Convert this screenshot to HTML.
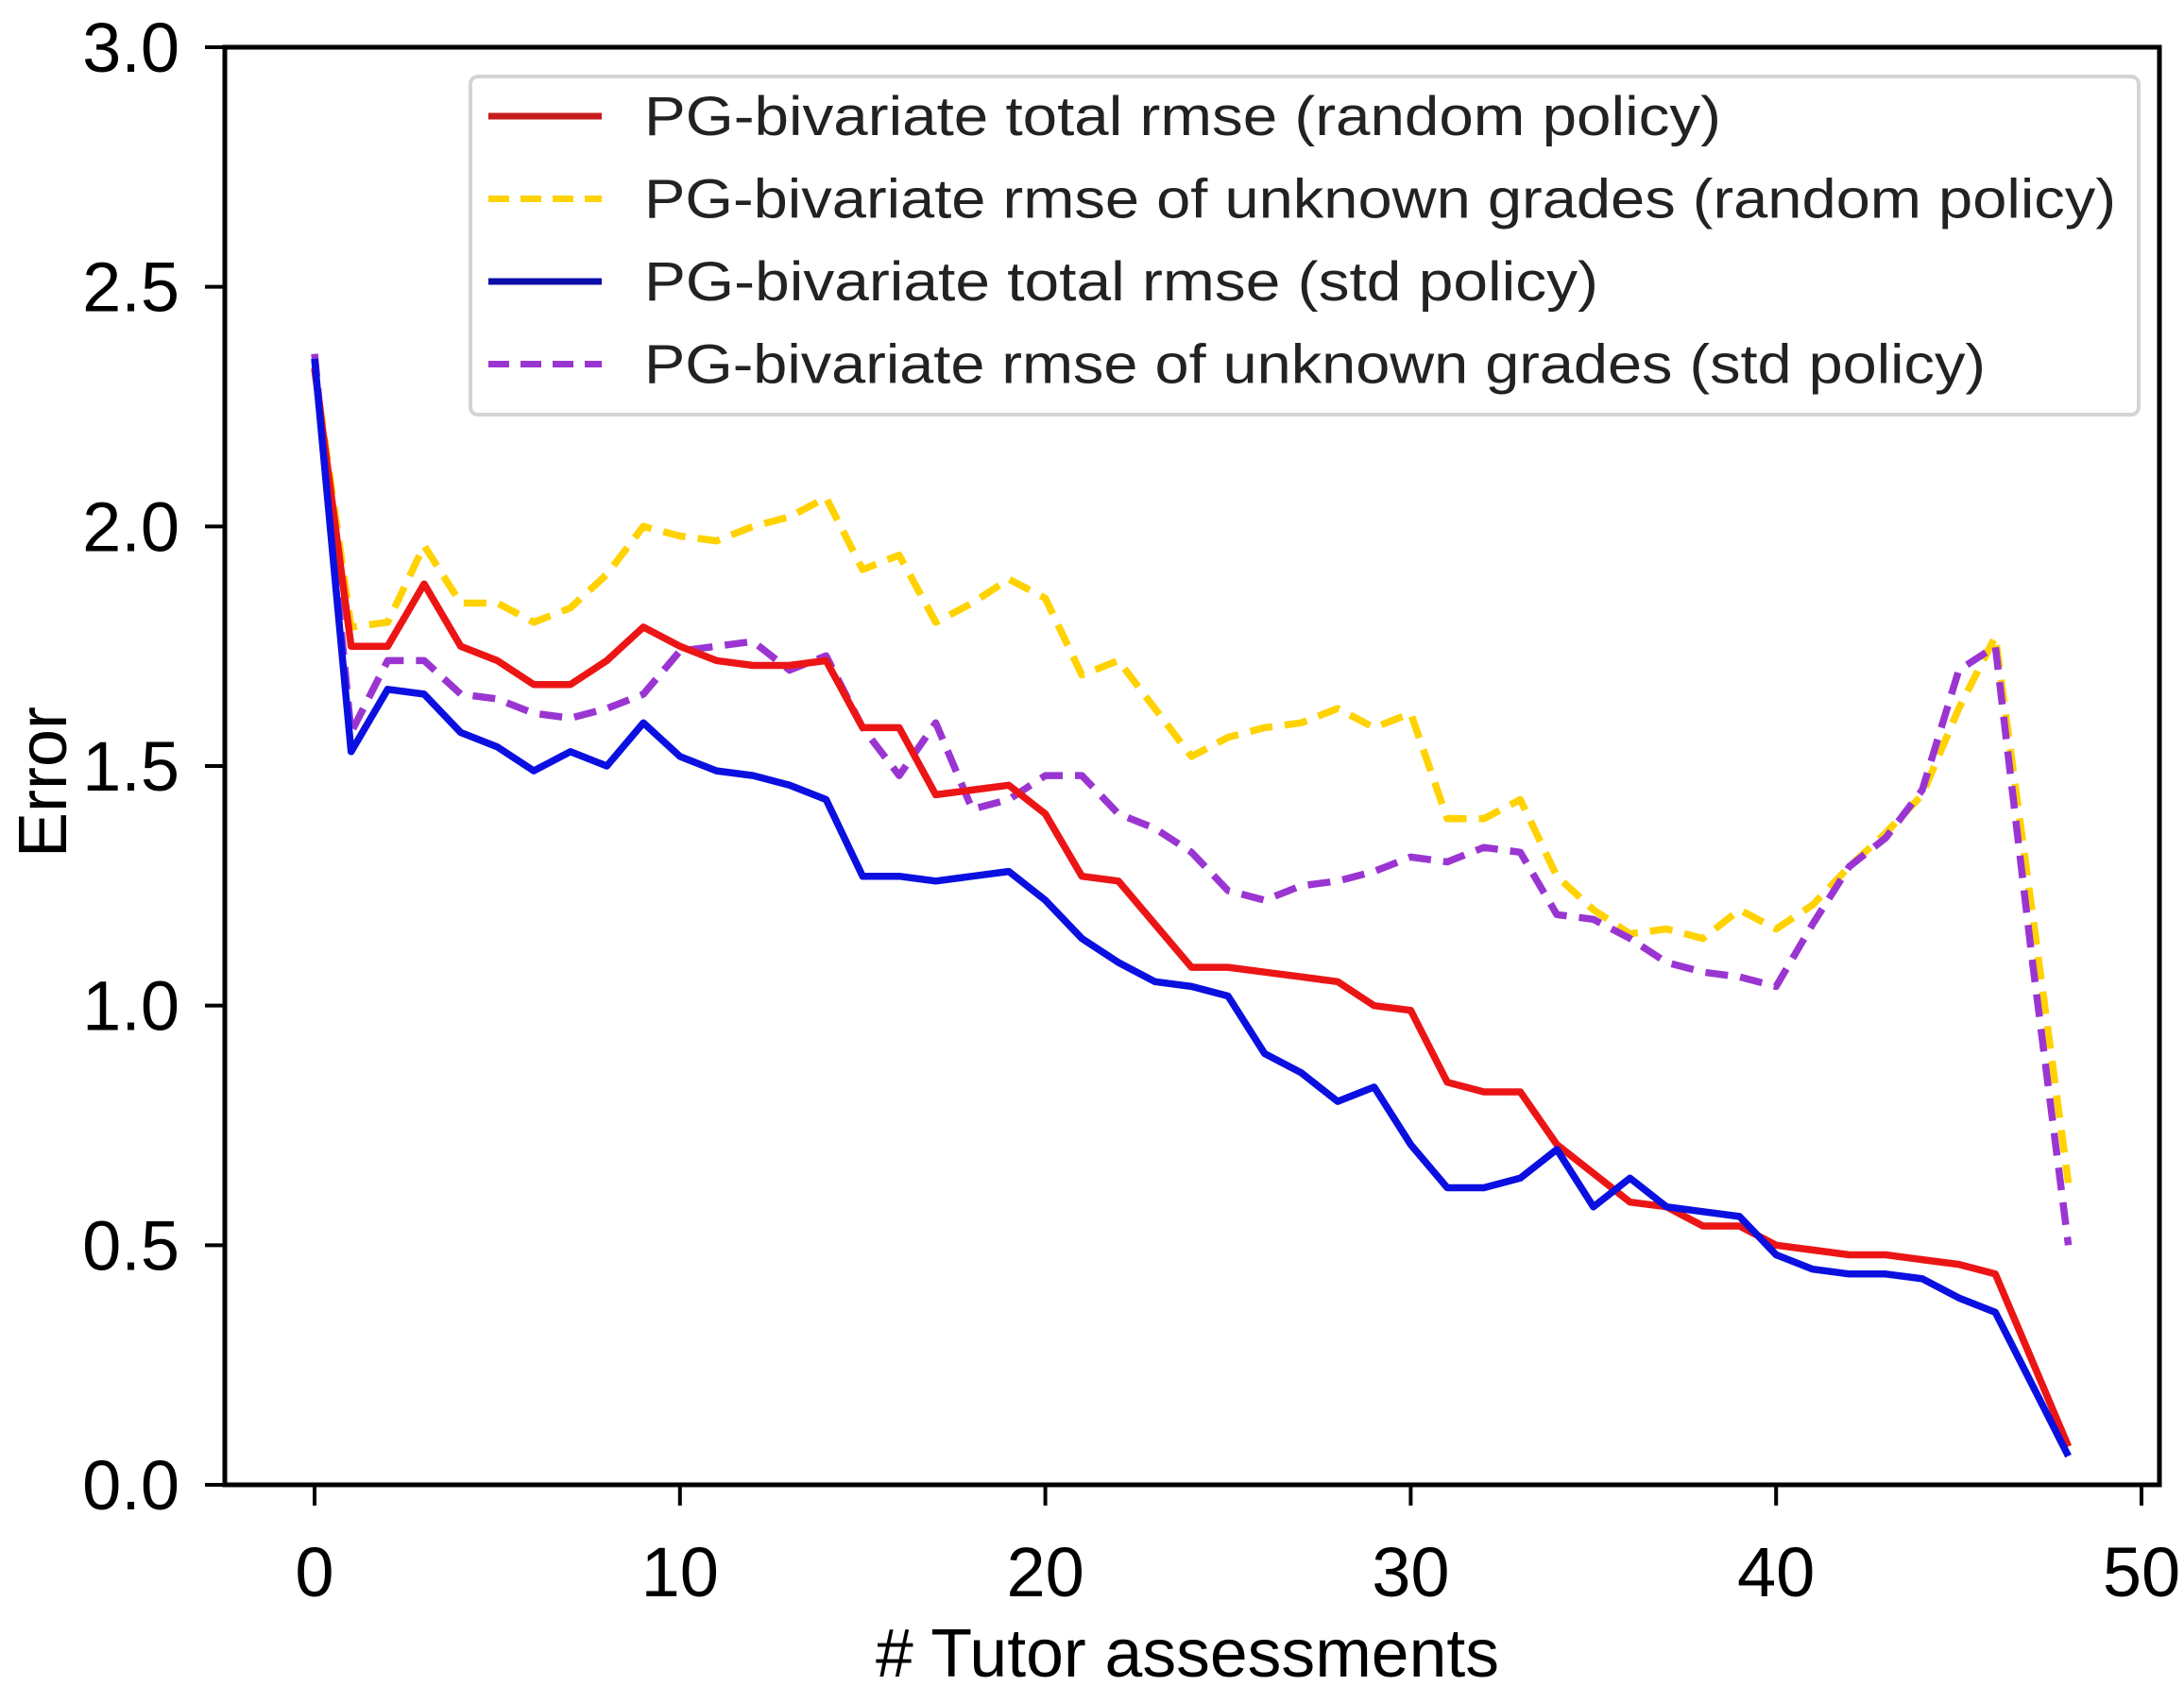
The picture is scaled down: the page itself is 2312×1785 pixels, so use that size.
<!DOCTYPE html>
<html><head><meta charset="utf-8"><style>
html,body{margin:0;padding:0;background:#fff;}
svg{display:block;font-family:"Liberation Sans",sans-serif;}
</style></head><body>
<svg id="chart" width="2312" height="1785" viewBox="0 0 2312 1785" xmlns="http://www.w3.org/2000/svg">
<g id="plot"></g>
<g id="axes"></g>
<g id="legend"></g>
</svg>
<script>
const xTicks = [0,10,20,30,40,50];
const yTicks = [0.0,0.5,1.0,1.5,2.0,2.5,3.0];
const yTickLabels = ["0.0","0.5","1.0","1.5","2.0","2.5","3.0"];
const redRandomTotal = [2.33,1.75,1.75,1.88,1.75,1.72,1.67,1.67,1.72,1.79,1.75,1.72,1.71,1.71,1.72,1.58,1.58,1.44,1.45,1.46,1.40,1.27,1.26,1.17,1.08,1.08,1.07,1.06,1.05,1.00,0.99,0.84,0.82,0.82,0.71,0.65,0.59,0.58,0.54,0.54,0.50,0.49,0.48,0.48,0.47,0.46,0.44,0.26,0.08];
const yellowRandomUnknown = [2.33,1.79,1.80,1.96,1.84,1.84,1.80,1.83,1.90,2.00,1.98,1.97,2.00,2.02,2.06,1.91,1.94,1.80,1.84,1.89,1.85,1.69,1.72,1.62,1.52,1.56,1.58,1.59,1.62,1.58,1.61,1.39,1.39,1.43,1.27,1.20,1.15,1.16,1.14,1.20,1.16,1.21,1.29,1.36,1.44,1.62,1.77,1.20,0.63];
const blueStdTotal = [2.35,1.53,1.66,1.65,1.57,1.54,1.49,1.53,1.50,1.59,1.52,1.49,1.48,1.46,1.43,1.27,1.27,1.26,1.27,1.28,1.22,1.14,1.09,1.05,1.04,1.02,0.90,0.86,0.80,0.83,0.71,0.62,0.62,0.64,0.70,0.58,0.64,0.58,0.57,0.56,0.48,0.45,0.44,0.44,0.43,0.39,0.36,0.21,0.06];
const purpleStdUnknown = [2.36,1.57,1.72,1.72,1.65,1.64,1.61,1.60,1.62,1.65,1.74,1.75,1.76,1.70,1.73,1.58,1.48,1.59,1.41,1.43,1.48,1.48,1.40,1.37,1.32,1.24,1.22,1.25,1.26,1.28,1.31,1.30,1.33,1.32,1.19,1.18,1.14,1.09,1.07,1.06,1.04,1.17,1.29,1.35,1.45,1.70,1.75,1.10,0.50];
const legendLabels = ["PG-bivariate total rmse (random policy)","PG-bivariate rmse of unknown grades (random policy)","PG-bivariate total rmse (std policy)","PG-bivariate rmse of unknown grades (std policy)"];

const NS="http://www.w3.org/2000/svg";
const L=238,R=2286,T=50,B=1572;
function xs(v){return 333+v*38.68;}
function ys(v){return B-(v/3)*(B-T);}
function mk(tag,attrs,parent){const e=document.createElementNS(NS,tag);for(const k in attrs)e.setAttribute(k,attrs[k]);parent.appendChild(e);return e;}

const plot=document.getElementById('plot'),axes=document.getElementById('axes'),legend=document.getElementById('legend');
const seriesDefs=[
 {d:yellowRandomUnknown,c:"#ffd200",dash:"24 13",n:"series-yellow-random-unknown"},
 {d:purpleStdUnknown,c:"#9a35d2",dash:"24 13",n:"series-purple-std-unknown"},
 {d:redRandomTotal,c:"#ec1515",dash:"",n:"series-red-random-total"},
 {d:blueStdTotal,c:"#0b10e0",dash:"",n:"series-blue-std-total"}
];
seriesDefs.forEach(s=>{
 const pts=s.d.map((v,i)=>xs(i).toFixed(1)+","+ys(v).toFixed(1)).join(" ");
 const p=mk('polyline',{points:pts,fill:"none",stroke:s.c,"stroke-width":7.5,"stroke-linejoin":"round"},plot);
 if(s.dash)p.setAttribute('stroke-dasharray',s.dash);
 
 
});

const fr=mk('rect',{x:L,y:T,width:R-L,height:B-T,fill:"none",stroke:"#000","stroke-width":5},axes);


yTicks.forEach((v,i)=>{
 const y=ys(v);
 const t=mk('line',{x1:217,x2:L,y1:y,y2:y,stroke:"#000","stroke-width":4},axes);
 
 
 const tx=mk('text',{x:190,y:y+26,"font-size":74,"text-anchor":"end",fill:"#000"},axes);
 tx.textContent=yTickLabels[i];
 
 
});
xTicks.forEach(v=>{
 const x=xs(v);
 const t=mk('line',{x1:x,x2:x,y1:B,y2:B+22,stroke:"#000","stroke-width":4},axes);
 
 
 const tx=mk('text',{x:x,y:1690,"font-size":74,"text-anchor":"middle",fill:"#000"},axes);
 tx.textContent=String(v);
 
 
});
const xl=mk('text',{x:1257,y:1775,"font-size":72,"text-anchor":"middle",textLength:660,lengthAdjust:"spacingAndGlyphs",fill:"#000"},axes);
xl.textContent="# Tutor assessments";


const yl=mk('text',{x:0,y:0,"font-size":72,"text-anchor":"middle",textLength:160,lengthAdjust:"spacingAndGlyphs",fill:"#000",transform:"translate(70,828) rotate(-90)"},axes);
yl.textContent="Error";



const lb=mk('rect',{x:498,y:81,width:1766,height:358,rx:8,fill:"#fff",stroke:"#d4d4d4","stroke-width":4},legend);


const legColors=["#c81e1e","#ffd200","#0c0ca8","#9a35d2"];
const legDash=["","22 12","","22 12"];
const legWidths=[1140,1558,1010,1420];
legendLabels.forEach((lab,i)=>{
 const y=123+i*87.5;
 const g=mk('g',{},legend);
 
 
 const ln=mk('line',{x1:517,x2:637,y1:y,y2:y,stroke:legColors[i],"stroke-width":7},g);
 if(legDash[i])ln.setAttribute('stroke-dasharray',legDash[i]);
 
 
 const tx=mk('text',{x:682,y:y+20,"font-size":58,textLength:legWidths[i],lengthAdjust:"spacingAndGlyphs",fill:"#222"},g);
 tx.textContent=lab;
 
 
});
</script>
</body></html>
